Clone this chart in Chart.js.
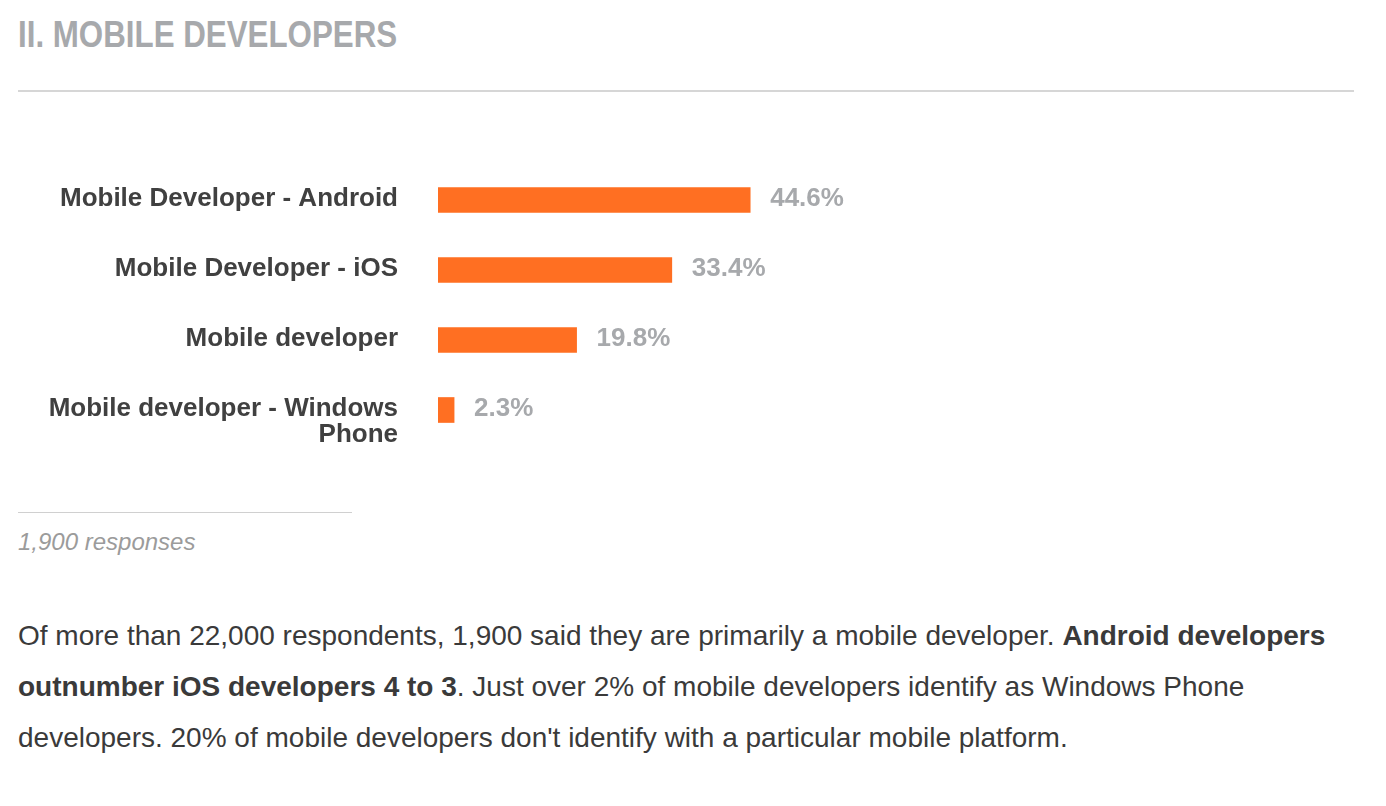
<!DOCTYPE html>
<html><head><meta charset="utf-8">
<script src="https://cdn.jsdelivr.net/npm/chart.js@4.4.0/dist/chart.umd.min.js"></script>
<style>
html,body{margin:0;padding:0;background:#fff;width:1386px;height:806px;overflow:hidden;}
body{position:relative;font-family:"Liberation Sans",Arial,Helvetica,sans-serif;}
#title{position:absolute;left:18px;top:13px;font-family:"Liberation Sans",Arial,sans-serif;font-weight:bold;font-size:37px;color:#a7a9ac;white-space:nowrap;line-height:44px;transform-origin:0 0;transform:scaleX(0.846);}
#rule1{position:absolute;left:18px;top:90px;width:1336px;height:2px;background:#d6d6d6;}
#wrap{position:absolute;left:18px;top:130px;width:1336px;height:340px;}
#rule2{position:absolute;left:18px;top:512px;width:334px;height:1px;background:#d0d0d0;}
#resp{position:absolute;left:18px;top:528px;font-style:italic;font-size:24px;line-height:28px;color:#9b9b9b;white-space:nowrap;}
#para{position:absolute;left:18px;top:610px;font-size:28px;line-height:51px;color:#3a3a3a;white-space:nowrap;}
</style>
</head><body>
<div id="title">II. MOBILE DEVELOPERS</div>
<div id="rule1"></div>
<div id="wrap"><canvas id="c" width="1336" height="340"></canvas></div>
<div id="rule2"></div>
<div id="resp">1,900 responses</div>
<div id="para">Of more than 22,000 respondents, 1,900 said they are primarily a mobile developer. <b>Android developers</b><br><b>outnumber iOS developers 4 to 3</b>. Just over 2% of mobile developers identify as Windows Phone<br>developers. 20% of mobile developers don't identify with a particular mobile platform.</div>
<script>
const categories = ['Mobile Developer - Android', 'Mobile Developer - iOS', 'Mobile developer', ['Mobile developer - Windows', 'Phone']];
const values = [44.6, 33.4, 19.8, 2.3];
const valueLabels = ['44.6%', '33.4%', '19.8%', '2.3%'];

const labelPlugin = {
  id: 'sideLabels',
  afterDatasetsDraw(chart) {
    const ctx = chart.ctx;
    const ys = chart.scales.y;
    const meta = chart.getDatasetMeta(0);
    ctx.save();
    ctx.textBaseline = 'alphabetic';
    categories.forEach((c, i) => {
      const base = ys.getPixelForValue(i) + 6;
      const lines = Array.isArray(c) ? c : [c];
      ctx.font = 'bold 26px "Liberation Sans", Arial, sans-serif';
      ctx.fillStyle = '#404040';
      ctx.textAlign = 'right';
      lines.forEach((l, j) => ctx.fillText(l, chart.chartArea.left - 40, base + j * 26));
      ctx.fillStyle = '#a7a9ac';
      ctx.textAlign = 'left';
      ctx.fillText(valueLabels[i], meta.data[i].x + 20, base);
    });
    ctx.restore();
  }
};

new Chart(document.getElementById('c'), {
  type: 'bar',
  data: {
    labels: categories,
    datasets: [{ data: values, backgroundColor: '#ff6f22', borderWidth: 0, barThickness: 25 }]
  },
  options: {
    indexAxis: 'y',
    responsive: false,
    animation: false,
    devicePixelRatio: 1,
    layout: { padding: { left: 420, right: 216, top: 35, bottom: 25 } },
    scales: {
      x: { display: false, min: 0, max: 100 },
      y: { display: false }
    },
    plugins: { legend: { display: false }, tooltip: { enabled: false } }
  },
  plugins: [labelPlugin]
});
</script>
</body></html>
